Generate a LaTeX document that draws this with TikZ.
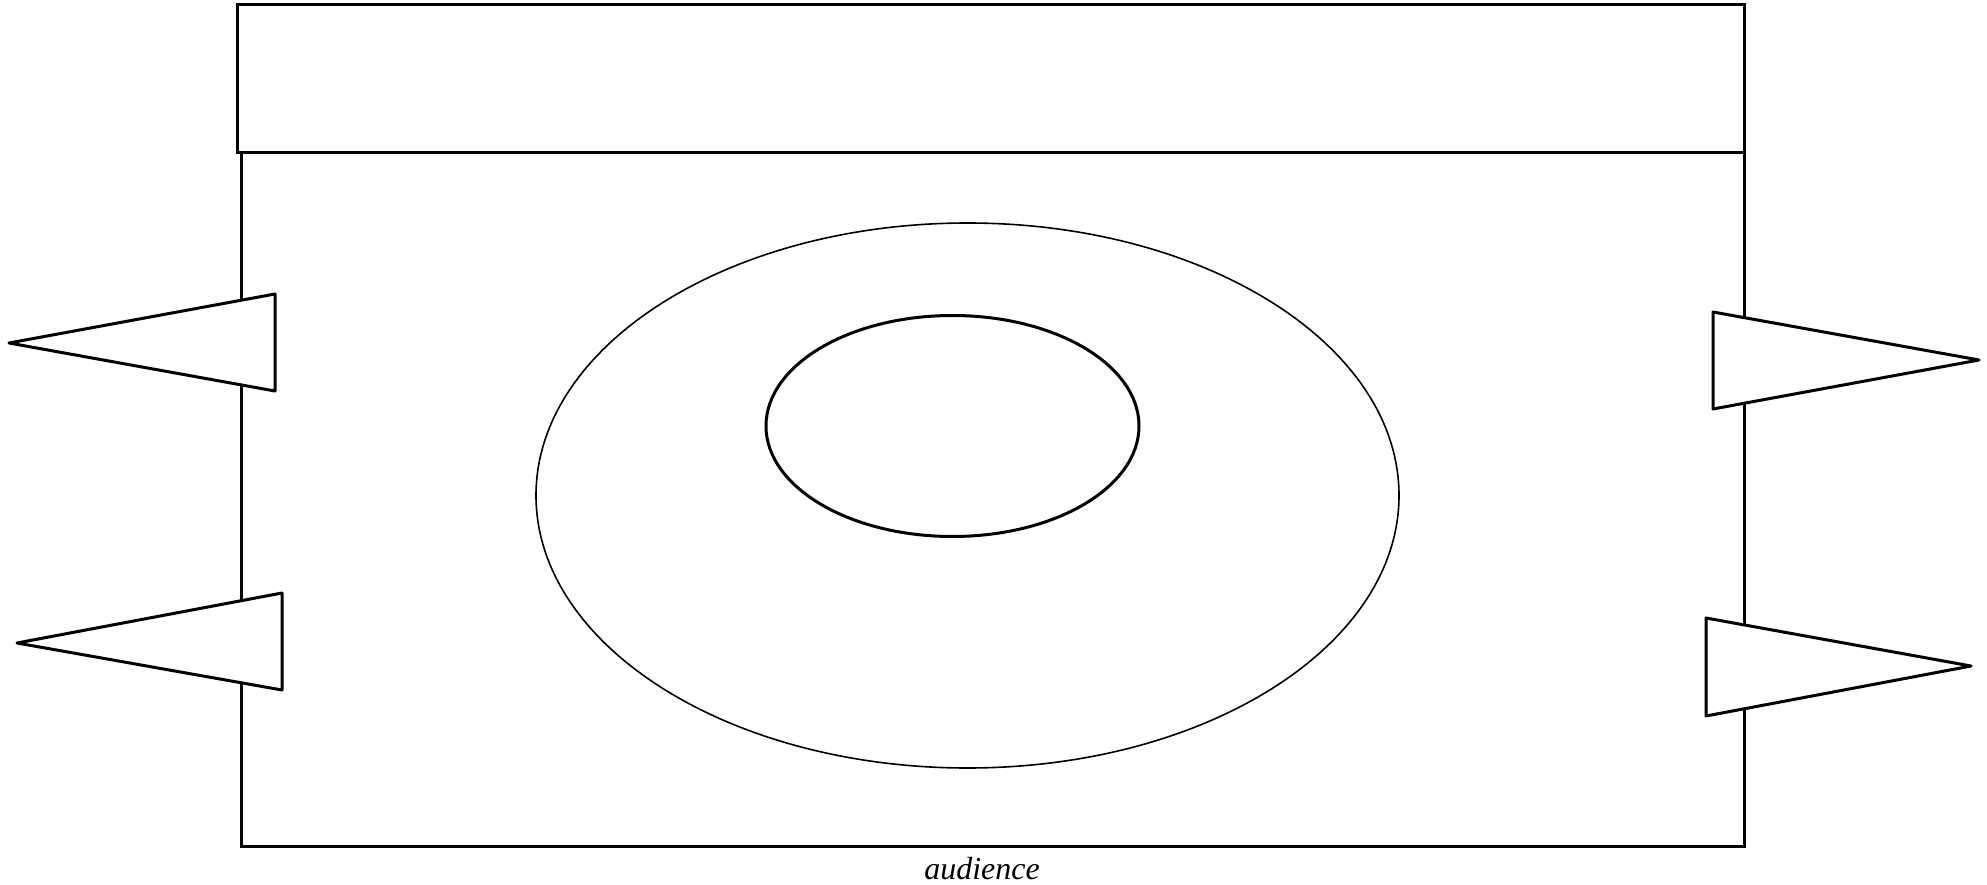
\documentclass[tikz,border=0pt]{standalone}
\usepackage{fontspec}
\setmainfont{Liberation Serif}
\begin{document}
\begin{tikzpicture}[x=1pt,y=-1pt,
  thickline/.style={draw=black,line width=3pt,line join=miter},
  flag/.style={draw=black,line width=3pt,line join=round,fill=white},
  thinline/.style={draw=black,line width=1.6pt}]
\useasboundingbox (0,0) rectangle (1987,885);
% stage
\draw[thickline] (241,153) rectangle (1744,846);
\draw[thickline,fill=white] (237,5) rectangle (1744,153);
% ellipses
\draw[thinline] (967.5,495.5) ellipse [x radius=431.5, y radius=272.5];
\draw[thickline] (952.5,426) ellipse [x radius=186.5, y radius=110.5];
% flags
\draw[flag] (9,343) -- (275,294) -- (275,391) -- cycle;
\draw[flag] (17,643) -- (282,593) -- (282,690) -- cycle;
\draw[flag] (1979,360) -- (1713,312) -- (1713,409) -- cycle;
\draw[flag] (1971,666) -- (1706,618) -- (1706,716) -- cycle;
% label
\node[anchor=base,font=\fontsize{32}{34}\selectfont\itshape] (aud) at (982,879) {audience};
\end{tikzpicture}
\end{document}
